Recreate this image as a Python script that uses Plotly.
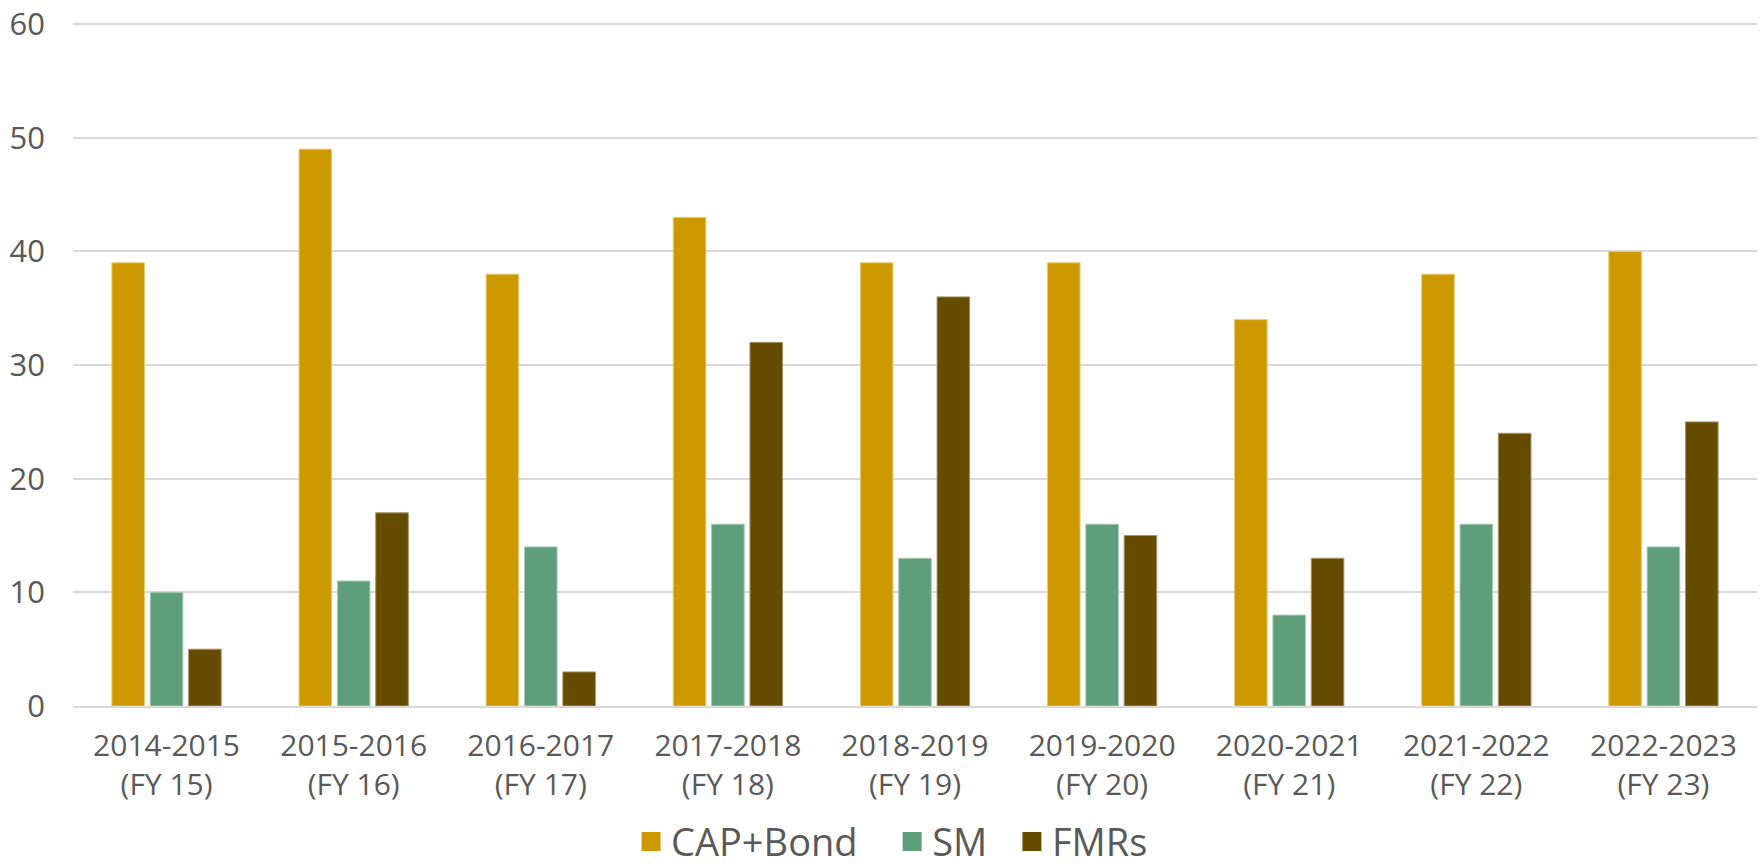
import plotly.graph_objects as go

categories = ["2014-2015<br>(FY 15)", "2015-2016<br>(FY 16)", "2016-2017<br>(FY 17)",
              "2017-2018<br>(FY 18)", "2018-2019<br>(FY 19)", "2019-2020<br>(FY 20)",
              "2020-2021<br>(FY 21)", "2021-2022<br>(FY 22)", "2022-2023<br>(FY 23)"]
cap_bond = [39, 49, 38, 43, 39, 39, 34, 38, 40]
sm = [10, 11, 14, 16, 13, 16, 8, 16, 14]
fmrs = [5, 17, 3, 32, 36, 15, 13, 24, 25]

series = [
    ("CAP+Bond", cap_bond, "#CC9900", "#E8CC70", "   "),
    ("SM", sm, "#5F9E7A", "#A9CCB8", "  "),
    ("FMRs", fmrs, "#664C00", "#A8966A", "  "),
]

fig = go.Figure()
for name, vals, col, lc, pad in series:
    fig.add_trace(go.Bar(x=categories, y=vals, name=name, marker_color=col,
                         marker_line=dict(color=lc, width=1), showlegend=False))
for name, vals, col, lc, pad in series:
    fig.add_trace(go.Scatter(x=[None], y=[None], mode="markers", name=name + pad,
                             marker=dict(symbol="square", size=22, color=col,
                                         line=dict(color=col, width=3))))

font_family = "Open Sans"
fig.update_layout(
    width=1762, height=866,
    paper_bgcolor="white", plot_bgcolor="white",
    margin=dict(l=73, r=5, t=23, b=160, autoexpand=False),
    barmode="group", bargap=0.385, bargroupgap=0.15,
    font=dict(family=font_family, color="#595959", size=30),
    showlegend=True,
    legend=dict(orientation="h", x=0.492, xanchor="center", y=-0.199, yanchor="middle",
                font=dict(size=38, color="#595959"), itemsizing="trace",
                tracegroupgap=0, itemwidth=30),
    xaxis=dict(showgrid=False, showline=True, linecolor="#D9D9D9", linewidth=2,
               automargin=False,
               ticks="", ticklabelstandoff=12, tickfont=dict(size=30, color="#595959")),
    yaxis=dict(range=[0, 60.1], dtick=10, showgrid=True, gridcolor="#D9D9D9", gridwidth=2,
               automargin=False, ticklabeloverflow="allow",
               zeroline=False, showline=False, ticks="", ticklabelstandoff=27,
               tickfont=dict(size=31, color="#595959")),
)

fig.write_html("out.html", config={"displayModeBar": False},
               post_script="document.body.style.margin='0';")
